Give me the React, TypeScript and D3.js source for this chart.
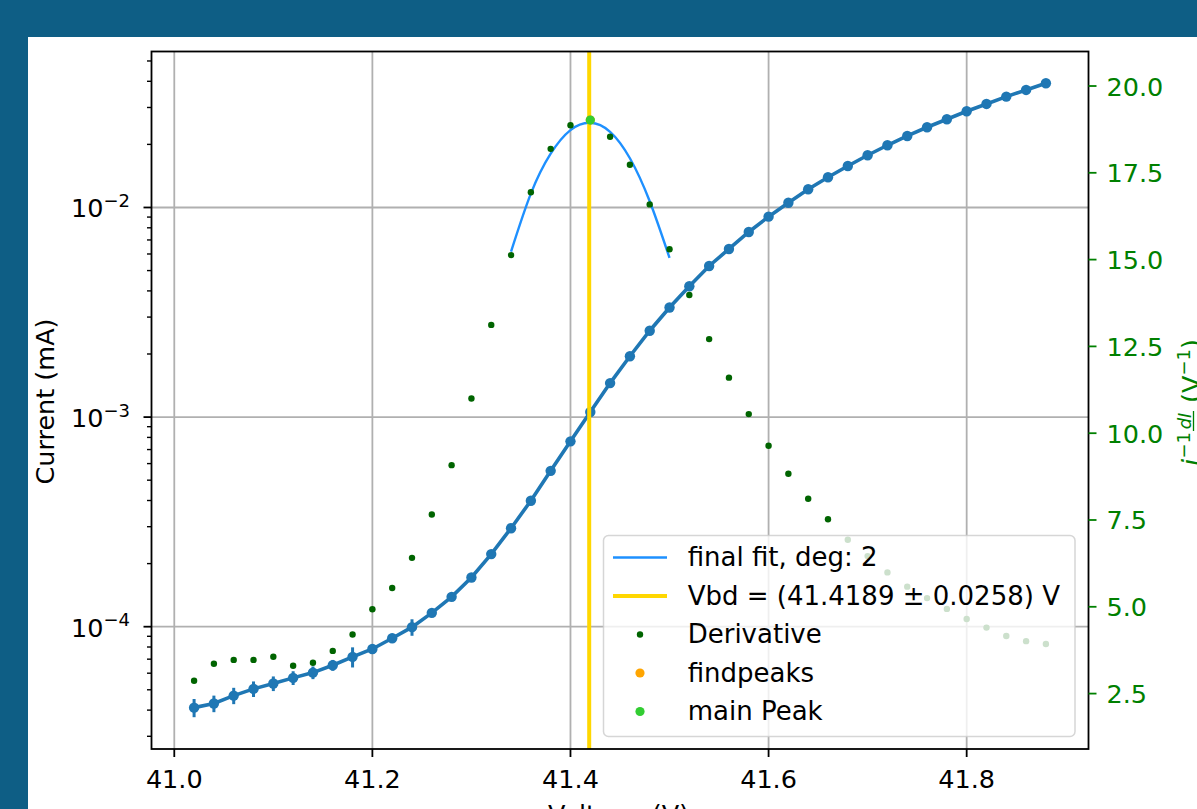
import React from "react";
import * as d3 from "d3";

// Bias sweep (V)
const voltage = [
  41.02, 41.04, 41.06, 41.08, 41.1, 41.12, 41.14, 41.16, 41.18, 41.2, 41.22,
  41.24, 41.26, 41.28, 41.3, 41.32, 41.34, 41.36, 41.38, 41.4, 41.42, 41.44,
  41.46, 41.48, 41.5, 41.52, 41.54, 41.56, 41.58, 41.6, 41.62, 41.64, 41.66,
  41.68, 41.7, 41.72, 41.74, 41.76, 41.78, 41.8, 41.82, 41.84, 41.86, 41.88,
];

// Measured current (mA)
const current = [
  4.11e-5, 4.3e-5, 4.69e-5, 5.05e-5, 5.36e-5, 5.7e-5, 6.04e-5, 6.55e-5, 7.18e-5,
  7.83e-5, 8.81e-5, 9.95e-5, 1.164e-4, 1.388e-4, 1.717e-4, 2.22e-4, 2.95e-4,
  3.99e-4, 5.54e-4, 7.66e-4, 1.057e-3, 1.453e-3, 1.951e-3, 2.582e-3, 3.332e-3,
  4.21e-3, 5.258e-3, 6.339e-3, 7.64e-3, 9.04e-3, 1.054e-2, 1.222e-2, 1.394e-2,
  1.578e-2, 1.775e-2, 1.981e-2, 2.194e-2, 2.414e-2, 2.636e-2, 2.879e-2,
  3.119e-2, 3.38e-2, 3.638e-2, 3.916e-2,
];

// Current uncertainty (mA)
const currentErr = [
  4.1e-6, 3.9e-6, 4.2e-6, 4.3e-6, 4.3e-6, 4.3e-6, 4.2e-6, 3.9e-6, 7.9e-6, 3.1e-6,
  4.4e-6, 9.0e-6, 3.5e-6, 4.0e-6, 4.0e-6, 4.5e-6, 4.5e-6, 5.0e-6, 5.0e-6, 5.0e-6,
  5.0e-6, 5.5e-6, 5.5e-6, 6.0e-6, 6.0e-6, 6.5e-6, 7.0e-6, 7.0e-6, 7.5e-6, 8.0e-6,
  8.0e-6, 8.5e-6, 9.0e-6, 9.0e-6, 9.5e-6, 1.0e-5, 1.0e-5, 1.0e-5, 1.1e-5, 1.1e-5,
  1.2e-5, 1.2e-5, 1.3e-5, 1.3e-5,
];

// Logarithmic derivative i^-1 dI/dV (1/V)
const derivative = [
  2.87, 3.36, 3.47, 3.47, 3.56, 3.3, 3.39, 3.73, 4.2, 4.93, 5.54, 6.41, 7.66,
  9.08, 11.0, 13.12, 15.13, 16.94, 18.19, 18.87, 19.02, 18.54, 17.73, 16.59,
  15.3, 13.98, 12.71, 11.6, 10.55, 9.64, 8.83, 8.11, 7.52, 6.93, 6.46, 5.99,
  5.58, 5.25, 4.94, 4.65, 4.4, 4.16, 4.01, 3.93,
];

// Degree-2 fit around the peak
const fitVoltage = [41.34, 41.36, 41.38, 41.4, 41.42, 41.44, 41.46, 41.48, 41.5];
const fitDerivative = [15.23, 16.9, 18.05, 18.73, 18.94, 18.68, 17.92, 16.68, 15.05];

// Peak markers and breakdown voltage
const peakVoltage = [41.42];
const peakDerivative = [19.02];
const vbd = 41.4189;
const vbdErr = 0.0258;

// Tick values
const xTicks = [41.0, 41.2, 41.4, 41.6, 41.8];
const rightTicks = [2.5, 5.0, 7.5, 10.0, 12.5, 15.0, 17.5, 20.0];

const W = 1197;
const H = 809;
const left = 151.5;
const right = 1088.5;
const top = 51.5;
const bottom = 749;

const FONT = "'DejaVu Sans', sans-serif";
const FS = 25.5;
const BLUE = "#1f77b4";
const DKGREEN = "#006400";
const GREEN = "#008000";

export default function App() {
  const x = d3.scaleLinear().domain([40.977, 41.923]).range([left, right]);
  const yL = d3
    .scaleLog()
    .domain([Math.pow(10, -4.5835), Math.pow(10, -1.2558)])
    .range([bottom, top]);
  const yR = d3.scaleLinear().domain([0.904, 20.994]).range([bottom, top]);

  const logTicks = yL.ticks();
  const isMajor = (t: number) => Math.abs(Math.log10(t) - Math.round(Math.log10(t))) < 1e-6;
  const majorY = logTicks.filter(isMajor);
  const minorY = logTicks.filter((t) => !isMajor(t));

  const currentLine = d3
    .line<number>()
    .x((_, i) => x(voltage[i]))
    .y((d) => yL(d))(current);

  const fitLine = d3
    .line<number>()
    .x((_, i) => x(fitVoltage[i]))
    .y((d) => yR(d))
    .curve(d3.curveNatural)(fitDerivative);

  const fmt1 = d3.format(".1f");

  const legendRows = [
    { kind: "line", color: "#1e90ff", width: 2.5, label: "final fit, deg: 2" },
    {
      kind: "line",
      color: "#ffd700",
      width: 4,
      label: `Vbd = (${vbd.toFixed(4)} \u00b1 ${vbdErr.toFixed(4)}) V`,
    },
    { kind: "dot", color: DKGREEN, r: 3.2, label: "Derivative" },
    { kind: "dot", color: "#ffa500", r: 4.6, label: "findpeaks" },
    { kind: "dot", color: "#32cd32", r: 4.6, label: "main Peak" },
  ];
  const legX = 603.5;
  const legY = 535.5;
  const legW = 471.5;
  const legH = 201;
  const rowBase = [566, 604.5, 643, 681.5, 720];

  return (
    <div style={{ position: "absolute", left: 0, top: 0 }}>
      <svg width={W} height={H} style={{ display: "block" }} fontFamily={FONT}>
        <rect x={0} y={0} width={W} height={H} fill="#0e5e85" />
        <rect x={28} y={37} width={W - 28} height={H - 37} fill="#ffffff" />

        {/* grid */}
        <g stroke="#b0b0b0" strokeWidth={1.8}>
          {xTicks.map((t) => (
            <line key={`gx${t}`} x1={x(t)} x2={x(t)} y1={top} y2={bottom} />
          ))}
          {majorY.map((t) => (
            <line key={`gy${t}`} x1={left} x2={right} y1={yL(t)} y2={yL(t)} />
          ))}
        </g>

        {/* current with error bars */}
        <g stroke={BLUE} strokeWidth={3}>
          {current.map((c, i) => (
            <line
              key={`e${i}`}
              x1={x(voltage[i])}
              x2={x(voltage[i])}
              y1={yL(c + currentErr[i])}
              y2={yL(c - currentErr[i])}
            />
          ))}
        </g>
        <path d={currentLine || ""} fill="none" stroke={BLUE} strokeWidth={3.6} />
        <g fill={BLUE}>
          {current.map((c, i) => (
            <circle key={`c${i}`} cx={x(voltage[i])} cy={yL(c)} r={5.2} />
          ))}
        </g>

        {/* derivative axis content */}
        <path d={fitLine || ""} fill="none" stroke="#1e90ff" strokeWidth={2.4} />
        <line x1={x(vbd)} x2={x(vbd)} y1={top} y2={bottom} stroke="#ffd700" strokeWidth={4} />
        <g fill={DKGREEN}>
          {derivative.map((d, i) => (
            <circle key={`d${i}`} cx={x(voltage[i])} cy={yR(d)} r={3.2} />
          ))}
        </g>
        {peakVoltage.map((v, i) => (
          <g key={`p${i}`}>
            <circle cx={x(v)} cy={yR(peakDerivative[i])} r={4.6} fill="#ffa500" />
            <circle cx={x(v)} cy={yR(peakDerivative[i])} r={4.6} fill="#32cd32" />
          </g>
        ))}

        {/* legend */}
        <rect
          x={legX}
          y={legY}
          width={legW}
          height={legH}
          rx={5}
          fill="#ffffff"
          fillOpacity={0.8}
          stroke="#cccccc"
          strokeOpacity={0.8}
          strokeWidth={1.5}
        />
        {legendRows.map((r, i) => {
          const cy = rowBase[i] - 8.5;
          return (
            <g key={`l${i}`}>
              {r.kind === "line" ? (
                <line x1={613} x2={667} y1={cy} y2={cy} stroke={r.color} strokeWidth={r.width} />
              ) : (
                <circle cx={640} cy={cy} r={r.r} fill={r.color} />
              )}
              <text x={687.7} y={rowBase[i]} fontSize={26} fill="#000">
                {r.label}
              </text>
            </g>
          );
        })}

        {/* spines */}
        <rect
          x={left}
          y={top}
          width={right - left}
          height={bottom - top}
          fill="none"
          stroke="#000"
          strokeWidth={1.8}
        />

        {/* x axis */}
        {xTicks.map((t) => (
          <g key={`xt${t}`}>
            <line x1={x(t)} x2={x(t)} y1={bottom} y2={bottom + 8} stroke="#000" strokeWidth={1.8} />
            <text x={x(t)} y={788.3} fontSize={FS} textAnchor="middle" fill="#000">
              {fmt1(t)}
            </text>
          </g>
        ))}
        <text x={618.5} y={823} fontSize={FS} textAnchor="middle" fill="#000">
          Voltage (V)
        </text>

        {/* left log axis */}
        {minorY.map((t) => (
          <line
            key={`my${t}`}
            x1={left - 4.5}
            x2={left}
            y1={yL(t)}
            y2={yL(t)}
            stroke="#000"
            strokeWidth={1.4}
          />
        ))}
        {majorY.map((t) => (
          <g key={`yt${t}`}>
            <line x1={left - 8} x2={left} y1={yL(t)} y2={yL(t)} stroke="#000" strokeWidth={1.8} />
            <text x={130} y={yL(t) + 10} fontSize={FS} textAnchor="end" fill="#000">
              10
              <tspan fontSize={18} dy={-10.5}>
                {"\u2212" + Math.abs(Math.round(Math.log10(t)))}
              </tspan>
            </text>
          </g>
        ))}
        <text
          transform={`translate(53.5,401.5) rotate(-90)`}
          fontSize={FS}
          textAnchor="middle"
          fill="#000"
        >
          Current (mA)
        </text>

        {/* right derivative axis */}
        {rightTicks.map((t) => (
          <g key={`rt${t}`}>
            <line x1={right} x2={right + 8} y1={yR(t)} y2={yR(t)} stroke={GREEN} strokeWidth={1.8} />
            <text x={1106.5} y={yR(t) + 9.5} fontSize={FS} fill={GREEN}>
              {fmt1(t)}
            </text>
          </g>
        ))}
        <g transform="translate(1200,400) rotate(-90)" fill={GREEN}>
          <text x={-66} y={0} fontSize={FS} fontStyle="italic">
            i
          </text>
          <text x={-58.5} y={-10} fontSize={18}>
            {"\u22121"}
          </text>
          <text x={-21} y={-9} fontSize={18} fontStyle="italic" textAnchor="middle">
            dI
          </text>
          <line x1={-31} x2={-11} y1={-6.5} y2={-6.5} stroke={GREEN} strokeWidth={1.3} />
          <text x={-21} y={12} fontSize={18} fontStyle="italic" textAnchor="middle">
            dV
          </text>
          <text x={-3} y={0} fontSize={FS}>
            (V
            <tspan fontSize={18} dy={-10}>
              {"\u22121"}
            </tspan>
            <tspan fontSize={FS} dy={10}>
              )
            </tspan>
          </text>
        </g>
      </svg>
    </div>
  );
}
